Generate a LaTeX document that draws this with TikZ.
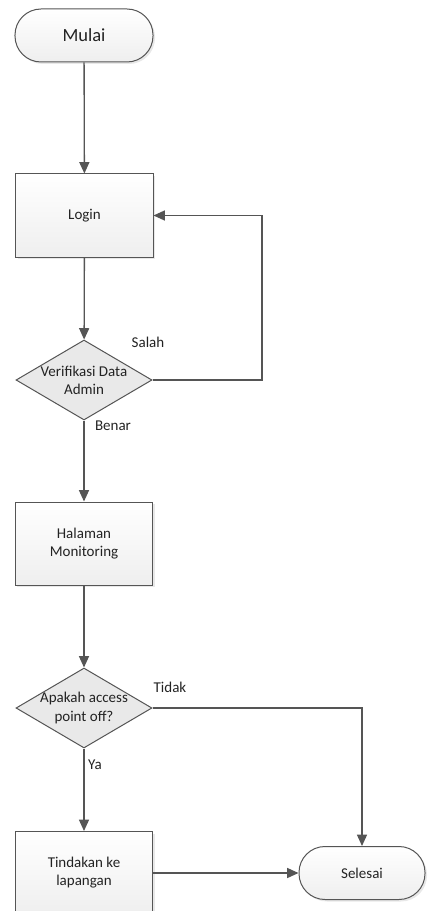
\documentclass[tikz,border=0pt]{standalone}
\usepackage{fontspec}
\setmainfont{Carlito}
\usetikzlibrary{arrows.meta,shapes.geometric,shadows}
\definecolor{linegray}{RGB}{85,85,85}
\definecolor{textgray}{RGB}{35,35,35}
\tikzset{
  proc/.style   = {draw=linegray, line width=0.3mm, top color=white, bottom color=gray!13,
                   minimum width=41.1mm, minimum height=24.9mm, align=center, text=textgray,
                   font=\fontsize{12.8}{15.4}\selectfont,
                   drop shadow={opacity=0.18, shadow xshift=0.6mm, shadow yshift=-0.6mm}},
  term/.style   = {proc, rounded corners=7.8mm, minimum height=15.9mm, minimum width=41.4mm},
  decide/.style = {diamond, draw=linegray, line width=0.3mm, fill=gray!17, inner sep=0pt,
                   minimum width=40.8mm, minimum height=24mm},
  intext/.style = {align=center, text=textgray, font=\fontsize{12.8}{15.4}\selectfont},
  wire/.style   = {draw=linegray, line width=0.4mm, -{Triangle[length=3.4mm,width=3mm]}},
  lbl/.style    = {text=textgray, font=\fontsize{12.8}{15.4}\selectfont},
}

\begin{document}
\begin{tikzpicture}[x=0.3mm,y=-0.3mm]
  \useasboundingbox (0,0) rectangle (427,911);
  \node[term] (mulai) at (84,35.5) {\fontsize{15.8}{19}\selectfont Mulai};
  \node[proc] (login) at (84.5,215.5) {Login};
  \node[decide, label={[intext]center:{Verifikasi Data\\Admin}}] (verif) at (84,380) {};
  \node[proc] (halaman) at (84,543.5) {Halaman\\Monitoring};
  \node[decide, label={[intext]center:{Apakah access\\point off?}}] (tanya) at (84,708) {};
  \node[proc] (tindakan) at (84,873) {Tindakan ke\\lapangan};
  \node[term, minimum width=37.8mm] (selesai) at (362,873) {Selesai};
  \coordinate (balik) at (262,380);
  % connectors
  \draw[wire] (mulai) -- (login);
  \draw[wire] (login) -- (verif);
  \draw[wire] (verif.east) -- (balik) |- (login.east);
  \draw[wire] (verif) -- (halaman);
  \draw[wire] (halaman) -- (tanya);
  \draw[wire] (tanya) -- (tindakan);
  \draw[wire] (tanya.east) -| (selesai.north);
  \draw[wire] (tindakan.east) -- (selesai.west);
  % labels
  \node[lbl] (salah) at (148,342) {Salah};
  \node[lbl] (benar) at (113,426) {Benar};
  \node[lbl] (tidak) at (170,687) {Tidak};
  \node[lbl] (ya) at (95,765) {Ya};
\end{tikzpicture}
\end{document}
